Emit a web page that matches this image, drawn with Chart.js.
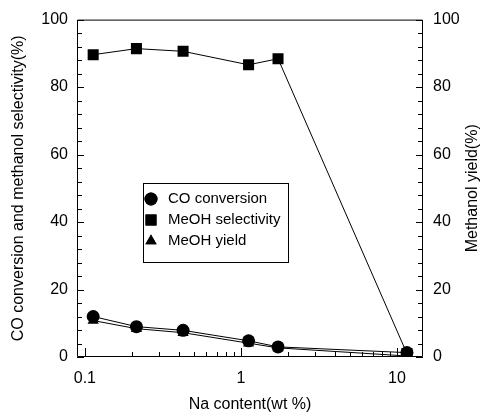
<!DOCTYPE html>
<html>
<head>
<meta charset="utf-8">
<script src="https://cdn.jsdelivr.net/npm/chart.js@4.4.1/dist/chart.umd.min.js"></script>
<style>
  body { margin: 0; background: #fff; }
  #wrap { width: 489px; height: 414px; }
</style>
</head>
<body>
<div id="wrap"><canvas id="naChart" width="489" height="414"></canvas></div>
<script>
// Na content (wt %) of each catalyst
const naContent = [0.113, 0.214, 0.426, 1.12, 1.73, 11.6];
// measured values (%)
const coConversion = [12.0, 9.0, 7.9, 4.8, 3.0, 1.3];
const meohSelectivity = [89.6, 91.4, 90.6, 86.6, 88.4, 1.0];
const meohYield = [10.8, 8.4, 7.2, 4.1, 2.7, 0.3];
const xTickValues = [0.1, 1, 10];
const yTickValues = [0, 20, 40, 60, 80, 100];
const rightTitle = 'Methanol yield(%)';

const FONT = 'Liberation Sans, Arial, sans-serif';

function toPoints(ys) {
    return naContent.map((x, i) => ({ x: x, y: ys[i] }));
}

const chartData = {
    datasets: [{
        label: 'CO conversion',
        data: toPoints(coConversion),
        yAxisID: 'y',
        pointStyle: 'circle',
        pointRadius: 6.5
    }, {
        label: 'MeOH selectivity',
        data: toPoints(meohSelectivity),
        yAxisID: 'y',
        pointStyle: 'rect',
        pointRadius: 7.8
    }, {
        label: 'MeOH yield',
        data: toPoints(meohYield),
        yAxisID: 'y2',
        pointStyle: 'triangle',
        pointRadius: 6.5
    }]
};

// frame with inward ticks, right-hand title and the boxed legend
const innerTicks = {
    id: 'innerTicks',
    afterDraw(chart) {
        const ctx = chart.ctx;
        const area = chart.chartArea;
        const x = chart.scales.x;
        const y = chart.scales.y;
        const y2 = chart.scales.y2;
        ctx.save();
        ctx.strokeStyle = '#000';
        ctx.lineWidth = 1;
        ctx.beginPath();
        ctx.rect(area.left + 0.5, area.top + 0.5, area.right - area.left - 1, area.bottom - area.top - 1);
        // y ticks on both sides, minor every 4
        for (let v = 0; v <= 100; v += 4) {
            const len = v % 20 === 0 ? 7 : 5;
            const py = Math.round(y.getPixelForValue(v)) + 0.5;
            ctx.moveTo(area.left, py);
            ctx.lineTo(area.left + len, py);
            const py2 = Math.round(y2.getPixelForValue(v)) + 0.5;
            ctx.moveTo(area.right, py2);
            ctx.lineTo(area.right - len, py2);
        }
        // log x ticks along the bottom
        for (let d = 0.1; d < 20; d *= 10) {
            for (let m = 1; m <= 9; m++) {
                const v = d * m;
                if (v < x.min || v > x.max) continue;
                const px = Math.round(x.getPixelForValue(v)) + 0.5;
                const len = m === 1 ? 9 : 5;
                ctx.moveTo(px, area.bottom);
                ctx.lineTo(px, area.bottom - len);
            }
        }
        ctx.stroke();

        // right axis title, reading upwards like the left one
        ctx.fillStyle = '#000';
        ctx.font = '16px ' + FONT;
        ctx.textAlign = 'center';
        ctx.textBaseline = 'middle';
        ctx.translate(473, (area.top + area.bottom) / 2);
        ctx.rotate(-Math.PI / 2);
        ctx.fillText(rightTitle, 0, 0);
        ctx.setTransform(1, 0, 0, 1, 0, 0);

        // legend box
        const bx = 143, by = 183, bw = 145, bh = 79;
        ctx.fillStyle = '#fff';
        ctx.fillRect(bx, by, bw, bh);
        ctx.strokeRect(bx + 0.5, by + 0.5, bw, bh);
        ctx.font = '15px ' + FONT;
        ctx.textAlign = 'left';
        chart.data.datasets.forEach((ds, i) => {
            const ry = by + 16 + i * 21;
            ctx.fillStyle = '#000';
            Chart.helpers.drawPoint(ctx, {
                pointStyle: ds.pointStyle,
                radius: ds.pointRadius,
                borderWidth: 0
            }, bx + 8, ry);
            ctx.fill();
            ctx.fillText(ds.label, bx + 25, ry);
        });
        ctx.restore();
    }
};

function fixWidth(w) {
    return function (scale) { scale.width = w; };
}

const config = {
    type: 'line',
    data: chartData,
    options: {
        responsive: false,
        animation: false,
        layout: { padding: { top: 16, left: 0, right: 0, bottom: 0 } },
        elements: {
            line: { borderColor: '#000', borderWidth: 1, tension: 0, fill: false },
            point: { backgroundColor: '#000', borderColor: '#000', borderWidth: 0 }
        },
        plugins: {
            legend: { display: false },
            tooltip: { enabled: false }
        },
        scales: {
            x: {
                type: 'logarithmic',
                min: 0.089,
                max: 14.7,
                afterBuildTicks: (scale) => {
                    scale.ticks = xTickValues.map(v => ({ value: v }));
                },
                afterFit: (scale) => { scale.height = 57; },
                grid: { display: false, drawTicks: false },
                border: { display: false },
                ticks: {
                    autoSkip: false,
                    maxRotation: 0,
                    padding: 12,
                    color: '#000',
                    font: { family: FONT, size: 16 },
                    callback: (v) => String(v)
                },
                title: {
                    display: true,
                    text: 'Na content(wt %)',
                    color: '#000',
                    font: { family: FONT, size: 16 },
                    padding: { top: 0, bottom: 0 }
                }
            },
            y: {
                position: 'left',
                min: 0,
                max: 100,
                afterBuildTicks: (scale) => {
                    scale.ticks = yTickValues.map(v => ({ value: v }));
                },
                afterFit: fixWidth(77),
                grid: { display: false, drawTicks: false },
                border: { display: false },
                ticks: {
                    padding: 9,
                    color: '#000',
                    font: { family: FONT, size: 16 }
                },
                title: {
                    display: true,
                    text: 'CO conversion and methanol selectivity(%)',
                    color: '#000',
                    font: { family: FONT, size: 16 },
                    padding: { top: 9, bottom: 0 }
                }
            },
            y2: {
                position: 'right',
                min: 0,
                max: 100,
                afterBuildTicks: (scale) => {
                    scale.ticks = yTickValues.map(v => ({ value: v }));
                },
                afterFit: fixWidth(66),
                grid: { display: false, drawTicks: false },
                border: { display: false },
                ticks: {
                    padding: 10,
                    color: '#000',
                    font: { family: FONT, size: 16 }
                },
                title: { display: false }
            }
        }
    },
    plugins: [innerTicks]
};

const naChart = new Chart(document.getElementById('naChart').getContext('2d'), config);
</script>
</body>
</html>
